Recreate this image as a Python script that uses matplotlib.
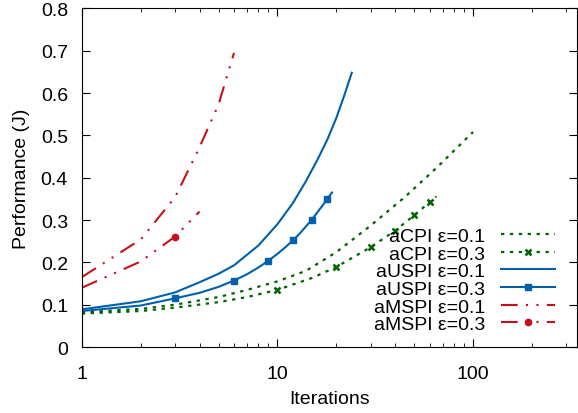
import numpy as np
import matplotlib
matplotlib.use("Agg")
from matplotlib import pyplot as plt
from matplotlib.ticker import FixedLocator, NullFormatter

plt.rcParams['font.family'] = ['Liberation Sans', 'DejaVu Sans']

# values
acpi1_x = [1, 2, 3, 5, 7, 10, 14, 20, 30, 45, 65, 100]
acpi1_y = [0.082, 0.090, 0.100, 0.118, 0.135, 0.155, 0.180, 0.224, 0.287, 0.355, 0.423, 0.508]

acpi3_x = [1, 2, 3, 5, 7, 10, 15, 20, 30, 40, 50, 60, 65]
acpi3_y = [0.079, 0.085, 0.093, 0.106, 0.118, 0.135, 0.163, 0.189, 0.236, 0.275, 0.311, 0.342, 0.356]

auspi1_x = [1, 2, 3, 4, 5, 6, 8, 10, 12, 14, 16, 18, 20, 22, 24]
auspi1_y = [0.089, 0.108, 0.129, 0.153, 0.173, 0.193, 0.240, 0.290, 0.340, 0.392, 0.442, 0.490, 0.541, 0.595, 0.648]

auspi3_x = list(range(1, 20))
auspi3_y = [0.085, 0.098, 0.115, 0.128, 0.142, 0.157, 0.172, 0.188, 0.204, 0.220,
            0.236, 0.252, 0.268, 0.285, 0.301, 0.318, 0.334, 0.350, 0.365]

amspi1_x = [1, 2, 3, 4, 5, 6]
amspi1_y = [0.165, 0.254, 0.354, 0.472, 0.573, 0.695]

amspi3_x = [1, 2, 3, 4]
amspi3_y = [0.140, 0.202, 0.261, 0.320]

green = '#006400'
blue = '#0060ad'
red = '#c8101a'
dotted = (0, (1.5, 2.5))
dashdotdot = (0, (8, 4, 1, 4, 1, 4))

fig = plt.figure(figsize=(5.78, 4.14), dpi=100)
ax = fig.add_axes([0.1415, 0.1594, 0.8576, 0.8179])

ax.plot(acpi1_x, acpi1_y, color=green, lw=1.6, ls=dotted, label='aCPI ε=0.1')
ax.plot(acpi3_x, acpi3_y, color=green, lw=1.6, ls=dotted, marker='x', ms=5, mew=1.8,
        markevery=[i for i, x in enumerate(acpi3_x) if x % 10 == 0], label='aCPI ε=0.3')
ax.plot(auspi1_x, auspi1_y, color=blue, lw=1.5, label='aUSPI ε=0.1')
ax.plot(auspi3_x, auspi3_y, color=blue, lw=1.5, marker='s', ms=5,
        markevery=slice(2, None, 3), label='aUSPI ε=0.3')
ax.plot(amspi1_x, amspi1_y, color=red, lw=1.5, ls=dashdotdot, label='aMSPI ε=0.1')
ax.plot(amspi3_x, amspi3_y, color=red, lw=1.5, ls=dashdotdot, marker='o', ms=4.5,
        markevery=[2], label='aMSPI ε=0.3')

ax.set_xscale('log')
ax.set_xlim(1, 342)
ax.set_ylim(0, 0.8)
ax.set_xticks([1, 10, 100])
ax.set_xticklabels(['1', '10', '100'])
minors = [m * 10 ** d for d in range(3) for m in range(2, 10) if m * 10 ** d < 342]
ax.xaxis.set_minor_locator(FixedLocator(minors))
ax.xaxis.set_minor_formatter(NullFormatter())
yt = [0, 0.1, 0.2, 0.3, 0.4, 0.5, 0.6, 0.7, 0.8]
ax.set_yticks(yt)
ax.set_yticklabels(['0'] + ['%.1f' % v for v in yt[1:]])
ax.tick_params(which='both', direction='in', top=True, right=True, labelsize=14)
ax.tick_params(axis='x', which='major', length=6, pad=13)
ax.tick_params(axis='x', which='minor', length=3)
ax.tick_params(axis='y', which='major', length=6, pad=10)
ax.set_xlabel('Iterations', fontsize=14, labelpad=6)
ax.set_ylabel('Performance (J)', fontsize=14, labelpad=8)

ax.legend(loc='lower right', bbox_to_anchor=(0.9546, 0.041), frameon=False,
          markerfirst=False, fontsize=14, handlelength=2.8, handletextpad=0.8,
          labelspacing=0.0, borderpad=0, borderaxespad=0, numpoints=1)

fig.savefig('out.png', dpi=100)
